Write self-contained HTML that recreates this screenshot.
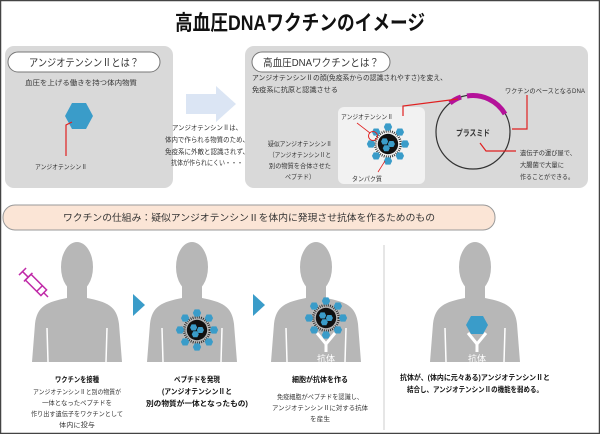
<!DOCTYPE html>
<html><head><meta charset="utf-8"><style>
html,body{margin:0;padding:0;background:#fff}
svg{display:block}
text{font-family:"Liberation Sans","Noto Sans CJK JP",sans-serif;fill:#333}
</style></head><body>
<svg width="600" height="434" viewBox="0 0 600 434" xmlns="http://www.w3.org/2000/svg">
<defs>
<g id="person">
  <ellipse cx="0" cy="267" rx="16" ry="25" fill="#b7b7b7"/>
  <path d="M-10,285 L-10,298 C-30,302 -40,306 -42,324 L-45,362 L45,362 L42,324 C40,306 30,302 10,298 L10,285 Z" fill="#b7b7b7"/>
  <path d="M-30,328 L-29,362 M30,328 L29,362" stroke="#fff" stroke-width="1.5"/>
</g>
<g id="hex"><polygon points="-4,-6 4,-6 7,0 4,6 -4,6 -7,0" fill="#3a9cc9"/></g>
<g id="virus">
  <circle r="15" fill="none" stroke="#222" stroke-width="3" stroke-dasharray="1 1.5"/>
  <circle r="12" fill="#111"/>
  <use href="#hex" transform="translate(-4,-3) scale(0.6)"/>
  <use href="#hex" transform="translate(4,0) scale(0.6)"/>
  <use href="#hex" transform="translate(-2,5) scale(0.6)"/>
  <use href="#hex" transform="translate(0,-20) scale(0.7)"/>
  <use href="#hex" transform="translate(14,-14) scale(0.7)"/>
  <use href="#hex" transform="translate(20,0) scale(0.7)"/>
  <use href="#hex" transform="translate(14,14) scale(0.7)"/>
  <use href="#hex" transform="translate(0,20) scale(0.7)"/>
  <use href="#hex" transform="translate(-14,14) scale(0.7)"/>
  <use href="#hex" transform="translate(-20,0) scale(0.7)"/>
  <use href="#hex" transform="translate(-14,-14) scale(0.7)"/>
</g>
</defs>
<rect x="0.5" y="0.5" width="599" height="433" fill="#fff" stroke="#444" stroke-width="1.5"/>
<text x="300" y="30" text-anchor="middle" font-size="21" font-weight="bold" style="fill:#111" textLength="250" lengthAdjust="spacingAndGlyphs">高血圧DNAワクチンのイメージ</text>

<!-- left panel -->
<rect x="5" y="46" width="168" height="142" rx="9" fill="#d9d9d9"/>
<rect x="8" y="52" width="152" height="20" rx="10" fill="#fff" stroke="#777"/>
<text x="84" y="66" text-anchor="middle" font-size="10.5" textLength="110" lengthAdjust="spacingAndGlyphs">アンジオテンシンⅡとは？</text>
<text x="25" y="85" font-size="7" textLength="112" lengthAdjust="spacingAndGlyphs">血圧を上げる働きを持つ体内物質</text>
<polygon points="72,103 86,103 93,116 86,129 72,129 65,116" fill="#3a9cc9"/>
<path d="M72,122 L66,125 L66,156" stroke="#e02020" stroke-width="1.2" fill="none"/>
<text x="35" y="169" font-size="6.5" textLength="52" lengthAdjust="spacingAndGlyphs">アンジオテンシンⅡ</text>

<!-- arrow -->
<polygon points="186,94 216,94 216,86 236,104 216,122 216,114 186,114" fill="#dbe5f4"/>
<g font-size="7" text-anchor="middle">
<text x="207" y="130" textLength="70" lengthAdjust="spacingAndGlyphs">アンジオテンシンⅡは、</text>
<text x="207" y="142" textLength="84" lengthAdjust="spacingAndGlyphs">体内で作られる物質のため、</text>
<text x="207" y="154" textLength="84" lengthAdjust="spacingAndGlyphs">免疫系に外敵と認識されず、</text>
<text x="207" y="165" textLength="72" lengthAdjust="spacingAndGlyphs">抗体が作られにくい・・・</text>
</g>

<!-- right panel -->
<rect x="245" y="46" width="343" height="142" rx="9" fill="#d9d9d9"/>
<rect x="252" y="52" width="138" height="20" rx="10" fill="#fff" stroke="#777"/>
<text x="321" y="66" text-anchor="middle" font-size="10.5" textLength="116" lengthAdjust="spacingAndGlyphs">高血圧DNAワクチンとは？</text>
<text x="252" y="80" font-size="7" textLength="195" lengthAdjust="spacingAndGlyphs">アンジオテンシンⅡの顔(免疫系からの認識されやすさ)を変え、</text>
<text x="252" y="92" font-size="7" textLength="86" lengthAdjust="spacingAndGlyphs">免疫系に抗原と認識させる</text>
<rect x="338" y="107" width="87" height="77" rx="6" fill="#f2f2f2"/>
<use href="#virus" transform="translate(388,144) scale(0.85)"/>
<circle cx="373" cy="136" r="4.5" fill="none" stroke="#e02020" stroke-width="1"/>
<path d="M357,123 L370,133 M385,161 L378,172" stroke="#e02020" stroke-width="0.8"/>
<text x="341" y="119" font-size="6.5" textLength="52" lengthAdjust="spacingAndGlyphs">アンジオテンシンⅡ</text>
<text x="352" y="181" font-size="6.5" textLength="30" lengthAdjust="spacingAndGlyphs">タンパク質</text>
<g font-size="6.5" text-anchor="middle">
<text x="300" y="146" textLength="64" lengthAdjust="spacingAndGlyphs">疑似アンジオテンシンⅡ</text>
<text x="300" y="157" textLength="62" lengthAdjust="spacingAndGlyphs">（アンジオテンシンⅡと</text>
<text x="300" y="168" textLength="62" lengthAdjust="spacingAndGlyphs">別の物質を合体させた</text>
<text x="300" y="179" textLength="30" lengthAdjust="spacingAndGlyphs">ペプチド）</text>
</g>
<circle cx="473" cy="132" r="37" fill="none" stroke="#333" stroke-width="1.2"/>
<path d="M450,103 A37,37 0 0 1 461,97" stroke="#b4129a" stroke-width="5" fill="none"/>
<path d="M467,96 A37,37 0 0 1 505,114" stroke="#b4129a" stroke-width="5" fill="none"/>
<path d="M403,116 L403,106 L458,99" stroke="#e02020" stroke-width="1.2" fill="none"/>
<path d="M512,129 L527,129 L527,95" stroke="#e02020" stroke-width="1.2" fill="none"/>
<text x="505" y="93" font-size="6.5" textLength="80" lengthAdjust="spacingAndGlyphs">ワクチンのベースとなるDNA</text>
<text x="473" y="136" text-anchor="middle" font-size="8.5" font-weight="bold" textLength="34" lengthAdjust="spacingAndGlyphs">プラスミド</text>
<path d="M480,143 L486,151 L516,151" stroke="#e02020" stroke-width="1.2" fill="none"/>
<text x="520" y="155" font-size="6.5" textLength="56" lengthAdjust="spacingAndGlyphs">遺伝子の運び屋で、</text>
<text x="520" y="167" font-size="6.5" textLength="44" lengthAdjust="spacingAndGlyphs">大腸菌で大量に</text>
<text x="520" y="179" font-size="6.5" textLength="54" lengthAdjust="spacingAndGlyphs">作ることができる。</text>

<!-- mechanism pill -->
<rect x="3" y="205" width="492" height="25" rx="12" fill="#fbe5d6" stroke="#999"/>
<text x="249" y="221" text-anchor="middle" font-size="9.5" textLength="372" lengthAdjust="spacingAndGlyphs">ワクチンの仕組み：疑似アンジオテンシンⅡを体内に発現させ抗体を作るためのもの</text>

<!-- persons -->
<use href="#person" transform="translate(77,0)"/>
<use href="#person" transform="translate(192,0)"/>
<use href="#person" transform="translate(316,0)"/>
<use href="#person" transform="translate(475,0)"/>
<line x1="384" y1="245" x2="384" y2="430" stroke="#ccc" stroke-width="1"/>

<!-- syringe -->
<g transform="translate(48,297) rotate(135)" stroke="#c02aa8" stroke-width="1.5" fill="none">
  <line x1="0" y1="0" x2="0" y2="6"/>
  <rect x="-4" y="6" width="8" height="22"/>
  <line x1="-4" y1="12" x2="4" y2="12"/>
  <line x1="0" y1="28" x2="0" y2="36"/>
  <line x1="-5" y1="36" x2="5" y2="36"/>
  <line x1="-6" y1="28" x2="6" y2="28"/>
</g>

<polygon points="133,294 145,305 133,316" fill="#3a9cc9"/>
<polygon points="253,294 265,305 253,316" fill="#3a9cc9"/>

<use href="#virus" transform="translate(197,330) scale(0.85)"/>
<use href="#virus" transform="translate(326,318) scale(0.85)"/>
<g stroke="#fff" stroke-width="3" fill="none">
<path d="M317,333 L326,344 L335,333 M326,344 L326,352"/>
<path d="M468,333 L477,344 L486,333 M477,344 L477,352"/>
</g>
<polygon points="471,316 483,316 488,325 483,334 471,334 466,325" fill="#3a9cc9"/>
<text x="326" y="362" text-anchor="middle" font-size="9" style="fill:#fff">抗体</text>
<text x="477" y="362" text-anchor="middle" font-size="9" style="fill:#fff">抗体</text>

<!-- captions -->
<g text-anchor="middle" font-size="6.5">
<text x="77" y="382" font-weight="bold" font-size="7.5" style="fill:#111" textLength="44" lengthAdjust="spacingAndGlyphs">ワクチンを接種</text>
<text x="77" y="394" textLength="88" lengthAdjust="spacingAndGlyphs">アンジオテンシンⅡと別の物質が</text>
<text x="77" y="405" textLength="70" lengthAdjust="spacingAndGlyphs">一体となったペプチドを</text>
<text x="77" y="416" textLength="92" lengthAdjust="spacingAndGlyphs">作り出す遺伝子をワクチンとして</text>
<text x="77" y="427" textLength="36" lengthAdjust="spacingAndGlyphs">体内に投与</text>
<text x="197" y="382" font-weight="bold" font-size="7.5" style="fill:#111" textLength="46" lengthAdjust="spacingAndGlyphs">ペプチドを発現</text>
<text x="197" y="394" font-weight="bold" font-size="7.5" style="fill:#111" textLength="70" lengthAdjust="spacingAndGlyphs">(アンジオテンシンⅡと</text>
<text x="197" y="406" font-weight="bold" font-size="7.5" style="fill:#111" textLength="102" lengthAdjust="spacingAndGlyphs">別の物質が一体となったもの)</text>
<text x="320" y="382" font-weight="bold" font-size="7.5" style="fill:#111" textLength="56" lengthAdjust="spacingAndGlyphs">細胞が抗体を作る</text>
<text x="320" y="399" textLength="86" lengthAdjust="spacingAndGlyphs">免疫細胞がペプチドを認識し、</text>
<text x="320" y="410" textLength="96" lengthAdjust="spacingAndGlyphs">アンジオテンシンⅡに対する抗体</text>
<text x="320" y="421" textLength="20" lengthAdjust="spacingAndGlyphs">を産生</text>
<text x="475" y="380" font-weight="bold" font-size="7.5" style="fill:#111" textLength="150" lengthAdjust="spacingAndGlyphs">抗体が、(体内に元々ある)アンジオテンシンⅡと</text>
<text x="475" y="392" font-weight="bold" font-size="7.5" style="fill:#111" textLength="136" lengthAdjust="spacingAndGlyphs">結合し、アンジオテンシンⅡの機能を弱める。</text>
</g>
</svg>
</body></html>
